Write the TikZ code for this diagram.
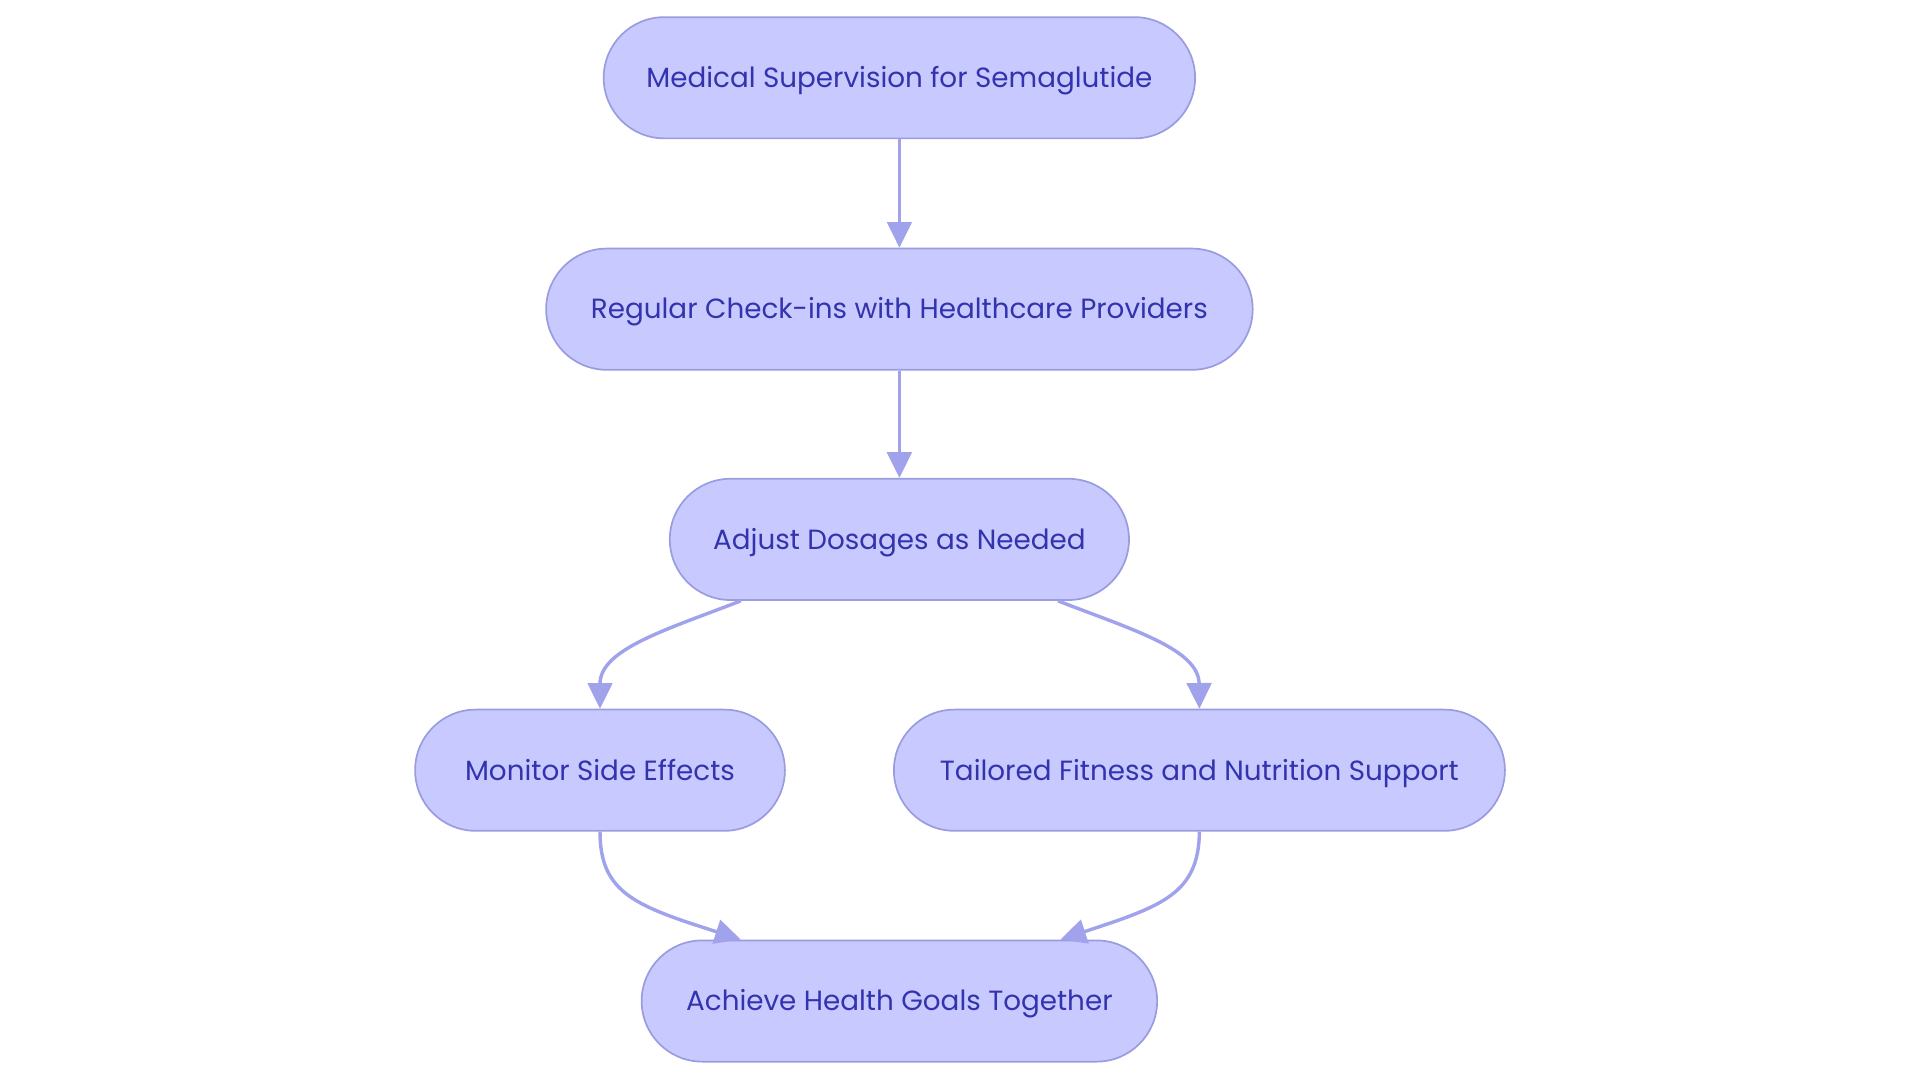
\documentclass[tikz,border=0pt]{standalone}
\usepackage{fontspec}
\setmainfont{Poppins}
\usetikzlibrary{arrows.meta}
\definecolor{nodefill}{HTML}{C8CAFF}
\definecolor{nodedraw}{HTML}{9A9CE0}
\definecolor{nodetext}{HTML}{3333AE}
\definecolor{edgecol}{HTML}{A0A2EC}
\begin{document}
\begin{tikzpicture}[x=1pt,y=-1pt,
  flownode/.style={draw=nodedraw, fill=nodefill, line width=1.4pt, rounded corners=49.5pt,
    minimum height=99pt, inner sep=0pt, text=nodetext, text height=19pt, text depth=3pt,
    font=\fontsize{22.7}{27}\selectfont},
  flowedge/.style={draw=edgecol, line width=2.8pt, -{Triangle[length=21pt,width=20pt]}}]
\useasboundingbox (0,0) rectangle (1568,884.45);
\node[flownode, minimum width=483pt] (med) at (734.5,63.5) {Medical Supervision for Semaglutide};
\node[flownode, minimum width=577pt] (reg) at (734.5,252.5) {Regular Check-ins with Healthcare Providers};
\node[flownode, minimum width=375pt] (adj) at (734.5,440.5) {Adjust Dosages as Needed};
\node[flownode, minimum width=302pt] (mon) at (490,629) {Monitor Side Effects};
\node[flownode, minimum width=499pt] (tai) at (979.5,629) {Tailored Fitness and Nutrition Support};
\node[flownode, minimum width=421pt] (ach) at (734.5,817.5) {Achieve Health Goals Together};
\draw[flowedge] (med.south) -- (reg.north);
\draw[flowedge] (reg.south) -- (adj.north);
\draw[flowedge] (adj.south -| 605,0) .. controls (545,514) and (490,530) .. (mon.north);
\draw[flowedge] (adj.south -| 864,0) .. controls (924,514) and (979,530) .. (tai.north);
\draw[flowedge] (mon.south) .. controls (490,730) and (520,740) .. (ach.north -| 605,0);
\draw[flowedge] (tai.south) .. controls (979,730) and (949,740) .. (ach.north -| 866,0);
\end{tikzpicture}
\end{document}
